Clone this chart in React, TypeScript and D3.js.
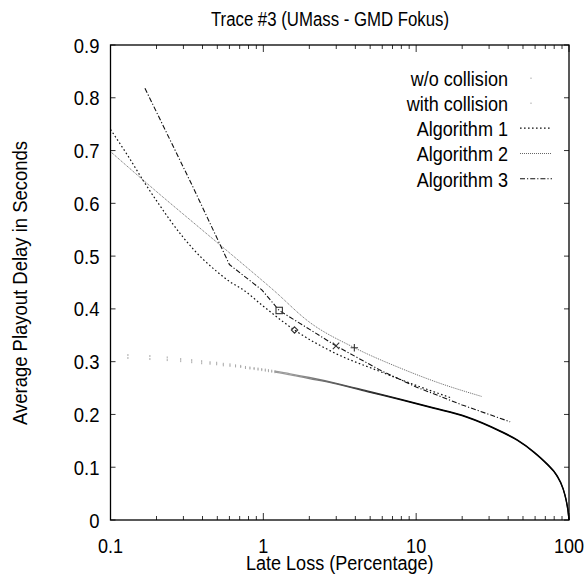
import React from "react";
import * as d3 from "d3";

// ---- data ----
const title = "Trace #3 (UMass - GMD Fokus)";
const xLabel = "Late Loss (Percentage)";
const yLabel = "Average Playout Delay in Seconds";
const xMajorTicks = [0.1, 1, 10, 100];
const xTickLabels = ["0.1", "1", "10", "100"];
const yTicks = [0, 0.1, 0.2, 0.3, 0.4, 0.5, 0.6, 0.7, 0.8, 0.9];
const yTickLabels = ["0", "0.1", "0.2", "0.3", "0.4", "0.5", "0.6", "0.7", "0.8", "0.9"];
const legendLabels = ["w/o collision", "with collision", "Algorithm 1", "Algorithm 2", "Algorithm 3"];

// sparse visible dots of the two collision curves (left part)
const collisionDotsX = [0.13, 0.181, 0.235, 0.288, 0.34, 0.395, 0.448, 0.495, 0.547, 0.605, 0.658, 0.711, 0.764, 0.817, 0.87, 0.923, 0.976, 1.03, 1.08, 1.135, 1.19];
const noCollisionDotsY = [0.3126, 0.3107, 0.308, 0.305, 0.303, 0.301, 0.299, 0.298, 0.296, 0.295, 0.293, 0.292, 0.29, 0.289, 0.288, 0.287, 0.286, 0.285, 0.284, 0.283, 0.282];
const withCollisionDotsY = [0.307, 0.305, 0.303, 0.301, 0.299, 0.297, 0.296, 0.295, 0.293, 0.292, 0.291, 0.29, 0.288, 0.287, 0.286, 0.285, 0.284, 0.283, 0.282, 0.281, 0.28];
// dense part of the collision curves (drawn as a line)
const noCollisionLineX = [1.19, 1.5, 2, 3, 5, 7.85, 12.9, 21.3, 35.4, 45.8, 59, 71.5, 83.1, 91.4, 95.8, 98.5, 100];
const noCollisionLineY = [0.282, 0.277, 0.27, 0.259, 0.243, 0.229, 0.213, 0.196, 0.169, 0.152, 0.129, 0.107, 0.085, 0.06, 0.038, 0.018, 0];
const withCollisionLineX = [1.19, 1.5, 2, 3, 5, 7.85, 12.9, 21.3, 35.4, 45.8, 59, 71.5, 83.1, 91.4, 95.8, 98.5, 100];
const withCollisionLineY = [0.28, 0.275, 0.268, 0.258, 0.242, 0.228, 0.212, 0.195, 0.168, 0.151, 0.128, 0.106, 0.084, 0.059, 0.037, 0.017, 0];

const alg1X = [0.1, 0.13, 0.163, 0.2, 0.3, 0.4, 0.5, 0.6, 0.74, 1.0, 1.6, 3.0, 5.5, 10, 16.7];
const alg1Y = [0.74, 0.69, 0.644, 0.605, 0.535, 0.495, 0.47, 0.452, 0.436, 0.405, 0.36, 0.315, 0.284, 0.255, 0.232];
const alg2X = [0.1, 0.195, 0.385, 0.7, 1.16, 2, 3.94, 8, 14, 26.9];
const alg2Y = [0.698, 0.625, 0.553, 0.49, 0.436, 0.375, 0.3265, 0.287, 0.26, 0.234];
const alg3X = [0.168, 0.345, 0.6, 0.977, 1.27, 2.99, 5.8, 10, 20, 41.2];
const alg3Y = [0.818, 0.632, 0.484, 0.436, 0.397, 0.33, 0.284, 0.252, 0.218, 0.186];

const markerX = [1.27, 1.6, 2.99, 3.94];
const markerY = [0.397, 0.36, 0.33, 0.3265];
const markerShape = ["square", "diamond", "cross", "plus"];

// ---- layout ----
const W = 587, H = 588;
const L = 110.5, R = 569, T = 45, B = 520;
const FONT = "'Liberation Sans', Arial, Helvetica, sans-serif";

const x = d3.scaleLog().domain([0.1, 100]).range([L, R]);
const y = d3.scaleLinear().domain([0, 0.9]).range([B, T]);

function Txt({ px, py, anchor = "start", size = 21, sx = 0.86, rot = 0, children }: any) {
  return (
    <text
      transform={`translate(${px},${py}) rotate(${rot}) scale(${sx},1)`}
      textAnchor={anchor}
      fontSize={size}
      fontFamily={FONT}
      fill="#000"
    >
      {children}
    </text>
  );
}

const pts = (xs: number[], ys: number[]) => xs.map((v, i) => [v, ys[i]] as [number, number]);
const smoothLine = d3
  .line<[number, number]>()
  .x((d) => x(d[0]))
  .y((d) => y(d[1]))
  .curve(d3.curveMonotoneX);
const straightLine = d3
  .line<[number, number]>()
  .x((d) => x(d[0]))
  .y((d) => y(d[1]));

export default function App() {
  const minor: number[] = [];
  [0.1, 1, 10].forEach((dec) => {
    for (let k = 2; k <= 9; k++) minor.push(dec * k);
  });

  const legendBase = [86, 111, 136, 161.3, 186.5];
  const lx1 = 520, lx2 = 552;

  const algStyles = [
    { stroke: "#111", dash: "1.6,2.4", width: 1.2 },
    { stroke: "#666", dash: "1,1", width: 1 },
    { stroke: "#111", dash: "5,2,1.2,2", width: 1.1 },
  ];
  const algData = [pts(alg1X, alg1Y), pts(alg2X, alg2Y), pts(alg3X, alg3Y)];
  const algGen = [smoothLine, smoothLine, straightLine];

  const marker = (shape: string, cx: number, cy: number, i: number) => {
    const s = 3.2;
    const st = { stroke: "#333", strokeWidth: 1.1, fill: "none" };
    if (shape === "square") return <rect key={i} x={cx - s} y={cy - s} width={2 * s} height={2 * s} {...st} />;
    if (shape === "diamond")
      return <path key={i} d={`M${cx},${cy - s}L${cx + s},${cy}L${cx},${cy + s}L${cx - s},${cy}Z`} {...st} />;
    if (shape === "cross")
      return <path key={i} d={`M${cx - s},${cy - s}L${cx + s},${cy + s}M${cx - s},${cy + s}L${cx + s},${cy - s}`} {...st} />;
    return <path key={i} d={`M${cx - s - 0.5},${cy}L${cx + s + 0.5},${cy}M${cx},${cy - s - 0.5}L${cx},${cy + s + 0.5}`} {...st} />;
  };

  return (
    <svg width={W} height={H} style={{ position: "absolute", left: 0, top: 0, background: "#fff" }}>
      <defs>
        <linearGradient id="collGrad" gradientUnits="userSpaceOnUse" x1={x(1.5)} y1={0} x2={x(9)} y2={0}>
          <stop offset="0" stopColor="#9a9a9a" />
          <stop offset="1" stopColor="#000" />
        </linearGradient>
      </defs>
      <rect x={0} y={0} width={W} height={H} fill="#fff" />

      {/* ticks */}
      <g stroke="#333" strokeWidth={1}>
        {xMajorTicks.map((t, i) => (
          <g key={"xm" + i}>
            <line x1={x(t)} x2={x(t)} y1={B} y2={B - 7} />
            <line x1={x(t)} x2={x(t)} y1={T} y2={T + 7} />
          </g>
        ))}
        {minor.map((t, i) => (
          <g key={"xn" + i}>
            <line x1={x(t)} x2={x(t)} y1={B} y2={B - 4} />
            <line x1={x(t)} x2={x(t)} y1={T} y2={T + 4} />
          </g>
        ))}
        {yTicks.map((t, i) => (
          <g key={"y" + i}>
            <line x1={L} x2={L + 5} y1={y(t)} y2={y(t)} />
            <line x1={R} x2={R - 5} y1={y(t)} y2={y(t)} />
          </g>
        ))}
      </g>

      {/* collision dots */}
      <g fill="#a8a8a8">
        {collisionDotsX.map((v, i) => (
          <rect key={"nd" + i} x={x(v) - 0.5} y={y(noCollisionDotsY[i]) - 1} width={1} height={2} />
        ))}
        {collisionDotsX.map((v, i) => (
          <rect key={"wd" + i} x={x(v) - 0.5} y={y(withCollisionDotsY[i]) - 1} width={1} height={2} />
        ))}
      </g>
      {/* collision dense lines */}
      <path d={smoothLine(pts(noCollisionLineX, noCollisionLineY)) || ""} fill="none" stroke="url(#collGrad)" strokeWidth={1.3} />
      <path d={smoothLine(pts(withCollisionLineX, withCollisionLineY)) || ""} fill="none" stroke="url(#collGrad)" strokeWidth={1.3} />

      {/* algorithms */}
      {algData.map((d, i) => (
        <path
          key={"alg" + i}
          d={algGen[i](d) || ""}
          fill="none"
          stroke={algStyles[i].stroke}
          strokeWidth={algStyles[i].width}
          strokeDasharray={algStyles[i].dash}
        />
      ))}

      {/* markers */}
      {markerX.map((v, i) => marker(markerShape[i], x(v), y(markerY[i]), i))}

      {/* frame */}
      <rect x={L} y={T} width={R - L} height={B - T} fill="none" stroke="#000" strokeWidth={1.3} />

      {/* tick labels */}
      {xMajorTicks.map((t, i) => (
        <Txt key={"xl" + i} px={x(t)} py={553} anchor="middle" size={21} sx={0.86}>
          {xTickLabels[i]}
        </Txt>
      ))}
      {yTicks.map((t, i) => (
        <Txt key={"yl" + i} px={99.5} py={y(t) + 7.5} anchor="end" size={21} sx={0.88}>
          {yTickLabels[i]}
        </Txt>
      ))}

      {/* titles */}
      <Txt px={330} py={26} anchor="middle" size={21} sx={0.8}>
        {title}
      </Txt>
      <Txt px={(L + R) / 2} py={570} anchor="middle" size={21} sx={0.86}>
        {xLabel}
      </Txt>
      <Txt px={27} py={283} anchor="middle" size={21} sx={0.88} rot={-90}>
        {yLabel}
      </Txt>

      {/* legend */}
      {legendLabels.map((lab, i) => (
        <Txt key={"lg" + i} px={508} py={legendBase[i]} anchor="end" size={21} sx={0.86}>
          {lab}
        </Txt>
      ))}
      <rect x={530.5} y={legendBase[0] - 8.5} width={1} height={1.5} fill="#aaa" />
      <rect x={530.5} y={legendBase[1] - 8.5} width={1} height={1.5} fill="#aaa" />
      {algStyles.map((s, i) => (
        <line
          key={"ls" + i}
          x1={lx1}
          x2={lx2}
          y1={legendBase[i + 2] - 7.8}
          y2={legendBase[i + 2] - 7.8}
          stroke={s.stroke}
          strokeWidth={s.width}
          strokeDasharray={s.dash}
        />
      ))}
    </svg>
  );
}
